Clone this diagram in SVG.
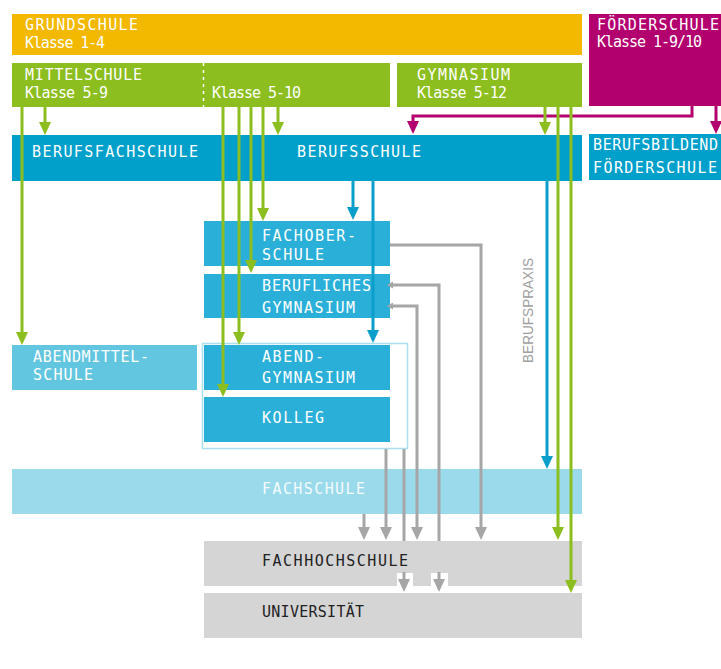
<svg xmlns="http://www.w3.org/2000/svg" width="721" height="669" viewBox="0 0 721 669">
<style>
.t{font-family:"DejaVu Sans Mono","Liberation Mono",monospace;font-size:15px;fill:#ffffff;}
.d{fill:#222222;}
.fs{fill:#f4fbfd;}
.c{fill:none;stroke-width:3;}
.g{stroke:#8BBE1E;}
.b{stroke:#0A9FCB;}
.m{stroke:#B3006F;}
.y{stroke:#A6A6A6;}
</style>
<defs>
<marker id="ag" markerUnits="userSpaceOnUse" markerWidth="13" markerHeight="12" viewBox="0 0 13 12" refX="7" refY="6" orient="auto"><path d="M0,0 L13,6 L0,12 z" fill="#8BBE1E"/></marker>
<marker id="ab" markerUnits="userSpaceOnUse" markerWidth="13" markerHeight="12" viewBox="0 0 13 12" refX="7" refY="6" orient="auto"><path d="M0,0 L13,6 L0,12 z" fill="#0A9FCB"/></marker>
<marker id="am" markerUnits="userSpaceOnUse" markerWidth="13" markerHeight="12" viewBox="0 0 13 12" refX="7" refY="6" orient="auto"><path d="M0,0 L13,6 L0,12 z" fill="#B3006F"/></marker>
<marker id="ay" markerUnits="userSpaceOnUse" markerWidth="13" markerHeight="12" viewBox="0 0 13 12" refX="7" refY="6" orient="auto"><path d="M0,0 L13,6 L0,12 z" fill="#A6A6A6"/></marker>
<marker id="sy" markerUnits="userSpaceOnUse" markerWidth="6" markerHeight="7" viewBox="0 0 6 7" refX="1" refY="3.5" orient="auto-start-reverse"><path d="M0,0 L6,3.5 L0,7 z" fill="#A6A6A6"/></marker>
</defs>
<rect width="721" height="669" fill="#ffffff"/>

<g id="grundschule">
<rect x="12" y="14" width="570" height="41" fill="#F3B800"/>
<text class="t" x="25" y="30" textLength="113" lengthAdjust="spacing">GRUNDSCHULE</text>
<text class="t" x="25" y="48" textLength="80" lengthAdjust="spacing">Klasse 1-4</text>
</g>
<g id="foerderschule">
<rect x="589" y="14" width="132" height="92" fill="#B3006F"/>
<text class="t" x="597" y="30" textLength="122" lengthAdjust="spacing">FÖRDERSCHULE</text>
<text class="t" x="597" y="47" textLength="105" lengthAdjust="spacing">Klasse 1-9/10</text>
</g>
<g id="mittelschule">
<rect x="12" y="63" width="378" height="44" fill="#8BBE1E"/>
<line x1="203.5" y1="63" x2="203.5" y2="107" stroke="#ffffff" stroke-width="1.5" stroke-dasharray="3 4"/>
<text class="t" x="25" y="80" textLength="117" lengthAdjust="spacing">MITTELSCHULE</text>
<text class="t" x="25" y="98" textLength="83" lengthAdjust="spacing">Klasse 5-9</text>
<text class="t" x="212" y="98" textLength="89" lengthAdjust="spacing">Klasse 5-10</text>
</g>
<g id="gymnasium">
<rect x="397" y="63" width="185" height="44" fill="#8BBE1E"/>
<text class="t" x="417" y="80" textLength="93" lengthAdjust="spacing">GYMNASIUM</text>
<text class="t" x="417" y="98" textLength="90" lengthAdjust="spacing">Klasse 5-12</text>
</g>
<g id="berufsschule">
<rect x="12" y="135" width="570" height="46" fill="#00A0CB"/>
<text class="t" x="32" y="157" textLength="166" lengthAdjust="spacing">BERUFSFACHSCHULE</text>
<text class="t" x="297" y="157" textLength="124" lengthAdjust="spacing">BERUFSSCHULE</text>
</g>
<g id="berufsbildend">
<rect x="589" y="134" width="132" height="46" fill="#00A0CB"/>
<text class="t" x="593" y="150" textLength="125" lengthAdjust="spacing">BERUFSBILDEND</text>
<text class="t" x="593" y="173" textLength="124" lengthAdjust="spacing">FÖRDERSCHULE</text>
</g>
<g id="fachoberschule">
<rect x="204" y="221" width="186" height="45" fill="#2AAFD9"/>
<text class="t" x="262" y="241" textLength="94" lengthAdjust="spacing">FACHOBER-</text>
<text class="t" x="262" y="260" textLength="62" lengthAdjust="spacing">SCHULE</text>
</g>
<g id="berufliches-gymnasium">
<rect x="204" y="274" width="186" height="44" fill="#2AAFD9"/>
<text class="t" x="262" y="291" textLength="109" lengthAdjust="spacing">BERUFLICHES</text>
<text class="t" x="262" y="313" textLength="93" lengthAdjust="spacing">GYMNASIUM</text>
</g>
<g id="abendmittelschule">
<rect x="12" y="345" width="185" height="45" fill="#62C6E0"/>
<text class="t" x="33" y="362" textLength="116" lengthAdjust="spacing">ABENDMITTEL-</text>
<text class="t" x="33" y="380" textLength="60" lengthAdjust="spacing">SCHULE</text>
</g>
<g id="abend-kolleg-rahmen">
<rect x="202.5" y="343.5" width="205" height="105" fill="#ffffff" stroke="#A8E0F0" stroke-width="1.5"/>
</g>
<g id="abendgymnasium">
<rect x="204" y="345" width="186" height="45" fill="#2AAFD9"/>
<text class="t" x="262" y="362" textLength="62" lengthAdjust="spacing">ABEND-</text>
<text class="t" x="262" y="383" textLength="93" lengthAdjust="spacing">GYMNASIUM</text>
</g>
<g id="kolleg">
<rect x="204" y="397" width="186" height="45" fill="#2AAFD9"/>
<text class="t" x="262" y="423" textLength="62" lengthAdjust="spacing">KOLLEG</text>
</g>
<g id="fachschule">
<rect x="12" y="469" width="570" height="45" fill="#9ADAEB"/>
<text class="t fs" x="262" y="494" textLength="103" lengthAdjust="spacing">FACHSCHULE</text>
</g>
<g id="fachhochschule">
<rect x="204" y="541" width="378" height="45" fill="#D5D5D5"/>
<text class="t d" x="262" y="566" textLength="146" lengthAdjust="spacing">FACHHOCHSCHULE</text>
</g>
<g id="universitaet">
<rect x="204" y="593" width="378" height="45" fill="#D5D5D5"/>
<text class="t d" x="262" y="617" textLength="102" lengthAdjust="spacing">UNIVERSITÄT</text>
</g>
<g id="berufspraxis">
<text x="0" y="0" transform="translate(533,363) rotate(-90)" font-family="'Liberation Sans',Arial,sans-serif" font-size="14" fill="#A0A0A0" textLength="105" lengthAdjust="spacingAndGlyphs">BERUFSPRAXIS</text>
</g>

<g id="connectors">
<path class="c m" d="M692,106 V116 H413 V128" marker-end="url(#am)"/>
<path class="c m" d="M716,106 V128" marker-end="url(#am)"/>

<path class="c g" d="M22,107 V339" marker-end="url(#ag)"/>
<path class="c g" d="M45,107 V129" marker-end="url(#ag)"/>
<path class="c g" d="M223,107 V391" marker-end="url(#ag)"/>
<path class="c g" d="M239,107 V339" marker-end="url(#ag)"/>
<path class="c g" d="M251,107 V267" marker-end="url(#ag)"/>
<path class="c g" d="M263,107 V215" marker-end="url(#ag)"/>
<path class="c g" d="M278,107 V129" marker-end="url(#ag)"/>
<path class="c g" d="M545,107 V129" marker-end="url(#ag)"/>
<path class="c g" d="M558,107 V534" marker-end="url(#ag)"/>
<path class="c g" d="M571,107 V587" marker-end="url(#ag)"/>

<path class="c b" d="M353,181 V214" marker-end="url(#ab)"/>
<path class="c b" d="M373,181 V337" marker-end="url(#ab)"/>
<path class="c b" d="M547,181 V463" marker-end="url(#ab)"/>

<path class="c y" d="M390,245 H481 V534" marker-end="url(#ay)"/>
<path class="c y" d="M392,285 H439 V541" marker-start="url(#sy)"/>
<path class="c y" d="M392,306 H417 V534" marker-start="url(#sy)" marker-end="url(#ay)"/>
<path class="c y" d="M386,449 V534" marker-end="url(#ay)"/>
<path class="c y" d="M404,449 V541"/>
<path class="c y" d="M364,514 V534" marker-end="url(#ay)"/>
<rect x="397" y="573" width="16" height="14" fill="#ffffff"/>
<rect x="431" y="573" width="17" height="14" fill="#ffffff"/>
<path class="c y" d="M404,572 V586" marker-end="url(#ay)"/>
<path class="c y" d="M439,572 V586" marker-end="url(#ay)"/>
</g>
</svg>
